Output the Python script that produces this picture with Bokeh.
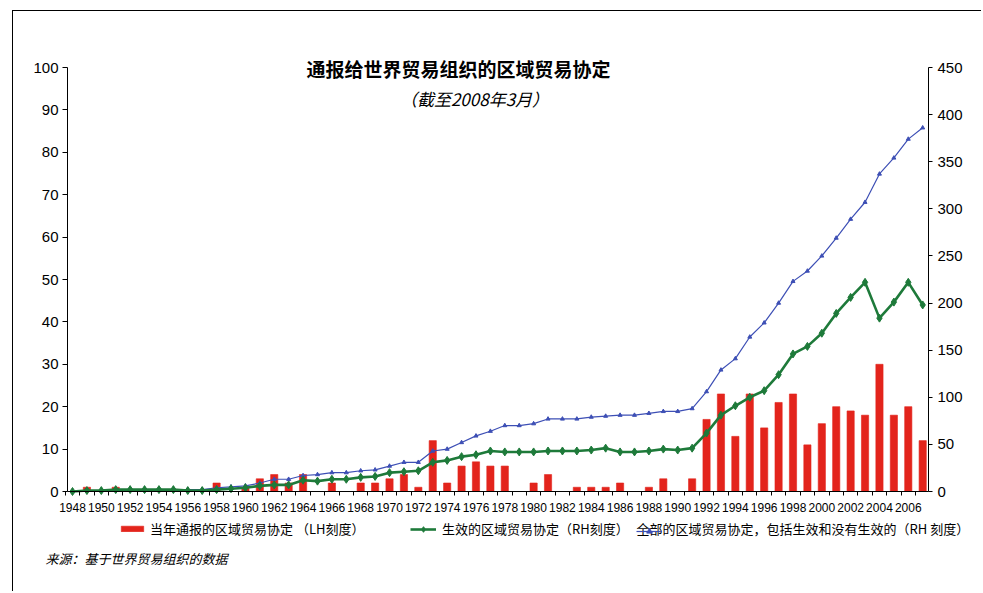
from bokeh.plotting import figure
from bokeh.models import (LinearAxis, Range1d, FixedTicker, Label, Legend,
                          LegendItem, ColumnDataSource)
from bokeh.embed import file_html
from bokeh.resources import INLINE

# ---------------- data ----------------
years = list(range(1948, 2008))
notified = [0, 1, 0, 1, 0, 0, 0, 0, 0, 0,
            2, 0, 1, 3, 4, 2, 4, 0, 2, 0,
            2, 2, 3, 4, 1, 12, 2, 6, 7, 6,
            6, 0, 2, 4, 0, 1, 1, 1, 2, 0,
            1, 3, 0, 3, 17, 23, 13, 23, 15, 21,
            23, 11, 16, 20, 19, 18, 30, 18, 20, 12]
all_rtas = [0, 1, 1, 2, 2, 2, 2, 2, 2, 2,
            4, 5, 6, 9, 13, 13, 17, 18, 20, 20,
            22, 23, 27, 31, 31, 43, 45, 52, 59, 64,
            70, 70, 72, 77, 77, 77, 79, 80, 81, 81,
            83, 85, 85, 88, 106, 129, 141, 164, 179, 200,
            223, 234, 250, 269, 289, 307, 337, 354, 374, 386]
in_force = [0, 1, 1, 2, 2, 2, 2, 2, 1, 1,
            2, 3, 4, 6, 7, 7, 12, 11, 13, 13,
            15, 16, 20, 21, 22, 31, 33, 37, 39, 43,
            42, 42, 42, 43, 43, 43, 44, 46, 42, 42,
            43, 45, 44, 46, 62, 81, 91, 100, 107, 124,
            146, 154, 168, 189, 206, 222, 184, 201, 222, 198]
left_ticks = list(range(0, 101, 10))
right_ticks = list(range(0, 451, 50))
x_label_years = list(range(1948, 2007, 2))

title_text = "通报给世界贸易组织的区域贸易协定"
subtitle_text = "（截至2008年3月）"
legend_bar = "当年通报的区域贸易协定 （LH刻度）"
legend_inforce = "生效的区域贸易协定（RH刻度）"
legend_all = "全部的区域贸易协定，包括生效和没有生效的（RH 刻度）"
source_text = "来源：基于世界贸易组织的数据"

# ---------------- geometry ----------------
RED = "#e3241c"
BLUE = "#3d4fb5"
GREEN = "#1e7a3a"
CJK = "Noto Sans CJK SC"
LAT = "Liberation Sans"

W, H = 969, 581                 # canvas; its frame covers all of it
X_OFF = 59                      # px from canvas left to the 1948 category
PX_YEAR = 14.41
Y0_PX = 480                     # px from canvas top to the zero line
PX_LH = 4.24                    # px per left-hand unit
RH_PER_LH = 4.5
AX_LEFT_PX = 54                 # left axis, px from canvas left
AX_RIGHT_PX = 915               # right axis, px from canvas left

x_start = 1948 - X_OFF / PX_YEAR
x_end = x_start + W / PX_YEAR
y_end = Y0_PX / PX_LH
y_start = -(H - Y0_PX) / PX_LH
x_left_axis = x_start + AX_LEFT_PX / PX_YEAR
x_right_axis = x_start + AX_RIGHT_PX / PX_YEAR

p = figure(width=W, height=H, output_backend="svg", toolbar_location=None,
           x_range=Range1d(x_start, x_end), y_range=Range1d(y_start, y_end),
           min_border_left=0, min_border_right=0,
           min_border_top=0, min_border_bottom=0)
p.styles = {"margin-left": "12px", "margin-top": "10px",
            "border-top": "1px solid #000", "border-left": "1px solid #000"}
p.extra_y_ranges = {"rh": Range1d(y_start * RH_PER_LH, y_end * RH_PER_LH)}
p.xgrid.visible = False
p.ygrid.visible = False
p.outline_line_color = None
p.background_fill_color = "white"
p.border_fill_color = "white"

src = ColumnDataSource(dict(year=years, notified=notified,
                            all_rtas=all_rtas, in_force=in_force))

bars = p.vbar(x="year", top="notified", width=0.5, source=src,
              fill_color=RED, line_color=RED, line_alpha=0.6)
bl = p.line("year", "all_rtas", source=src, y_range_name="rh",
            line_color=BLUE, line_width=1.2)
bm = p.scatter("year", "all_rtas", source=src, y_range_name="rh",
               marker="triangle", size=4, fill_color=BLUE, line_color=BLUE)
gl = p.line("year", "in_force", source=src, y_range_name="rh",
            line_color=GREEN, line_width=2.6)
gm = p.scatter("year", "in_force", source=src, y_range_name="rh",
               marker="diamond", size=8, fill_color=GREEN, line_color=GREEN)

# ---------------- axes ----------------
xa = p.xaxis[0]
xa.fixed_location = 0
xa.bounds = (x_left_axis, x_right_axis)
xa.ticker = FixedTicker(ticks=x_label_years,
                        minor_ticks=[y + 0.5 for y in range(1947, 2007)])
xa.major_tick_out = 0
xa.major_tick_in = 0
xa.minor_tick_out = 4
xa.minor_tick_in = 0
xa.major_label_standoff = 7
xa.major_label_text_font = LAT
xa.major_label_text_font_size = "12px"
xa.major_label_text_color = "#000"
xa.axis_line_color = "#000"
xa.minor_tick_line_color = "#000"

ya = p.yaxis[0]
ya.fixed_location = x_left_axis
ya.ticker = FixedTicker(ticks=left_ticks, minor_ticks=[])
ya.bounds = (0, 100)
ya.major_tick_out = 5
ya.major_tick_in = 0
ya.minor_tick_out = 0
ya.major_label_standoff = 4
ya.major_label_text_font = LAT
ya.major_label_text_font_size = "15px"
ya.major_label_text_color = "#000"
ya.axis_line_color = "#000"
ya.major_tick_line_color = "#000"

ra = LinearAxis(y_range_name="rh", bounds=(0, 450),
                fixed_location=x_right_axis,
                ticker=FixedTicker(ticks=right_ticks, minor_ticks=[]))
ra.major_tick_out = 4
ra.major_tick_in = 0
ra.minor_tick_out = 0
ra.major_label_standoff = 5
ra.major_label_text_font = LAT
ra.major_label_text_font_size = "15px"
ra.major_label_text_color = "#000"
ra.axis_line_color = "#000"
ra.major_tick_line_color = "#000"
p.add_layout(ra, "right")

# ---------------- texts (frame-relative screen coords, y from bottom) -------
p.add_layout(Label(x=445, y=524, x_units="screen", y_units="screen",
                   text=title_text, text_align="center", text_baseline="middle",
                   text_font=CJK, text_font_style="bold",
                   text_font_size="19px", text_color="#000"))
p.add_layout(Label(x=461, y=494, x_units="screen", y_units="screen",
                   text=subtitle_text, text_align="center", text_baseline="middle",
                   text_font=CJK, text_font_style="italic",
                   text_font_size="17px", text_color="#000"))
p.add_layout(Label(x=32, y=34, x_units="screen", y_units="screen",
                   text=source_text, text_align="left", text_baseline="middle",
                   text_font=CJK, text_font_style="italic",
                   text_font_size="13px", text_color="#000"))
p.add_layout(Label(x=623, y=64, x_units="screen", y_units="screen",
                   text=legend_all, text_align="left", text_baseline="middle",
                   text_font=CJK, text_font_size="13px", text_color="#000"))

# ---------------- legends ----------------
common = dict(orientation="horizontal", label_height=14,
              padding=0, margin=0, spacing=0, border_line_color=None,
              background_fill_alpha=0, label_text_font=CJK,
              label_text_font_size="13px", label_text_color="#000",
              label_text_baseline="middle")

p.add_layout(Legend(items=[LegendItem(label=legend_bar, renderers=[bars])],
                    location=(105, 54), glyph_width=28, glyph_height=7,
                    label_standoff=4, **common))
p.add_layout(Legend(items=[LegendItem(label=legend_inforce, renderers=[gl, gm])],
                    location=(397, 54), glyph_width=26, glyph_height=14,
                    label_standoff=6, **common))
p.add_layout(Legend(items=[LegendItem(label=" ", renderers=[bl, bm])],
                    location=(623, 54), glyph_width=26, glyph_height=14,
                    label_standoff=0, **common))

open("out.html", "w").write(file_html(p, INLINE))
